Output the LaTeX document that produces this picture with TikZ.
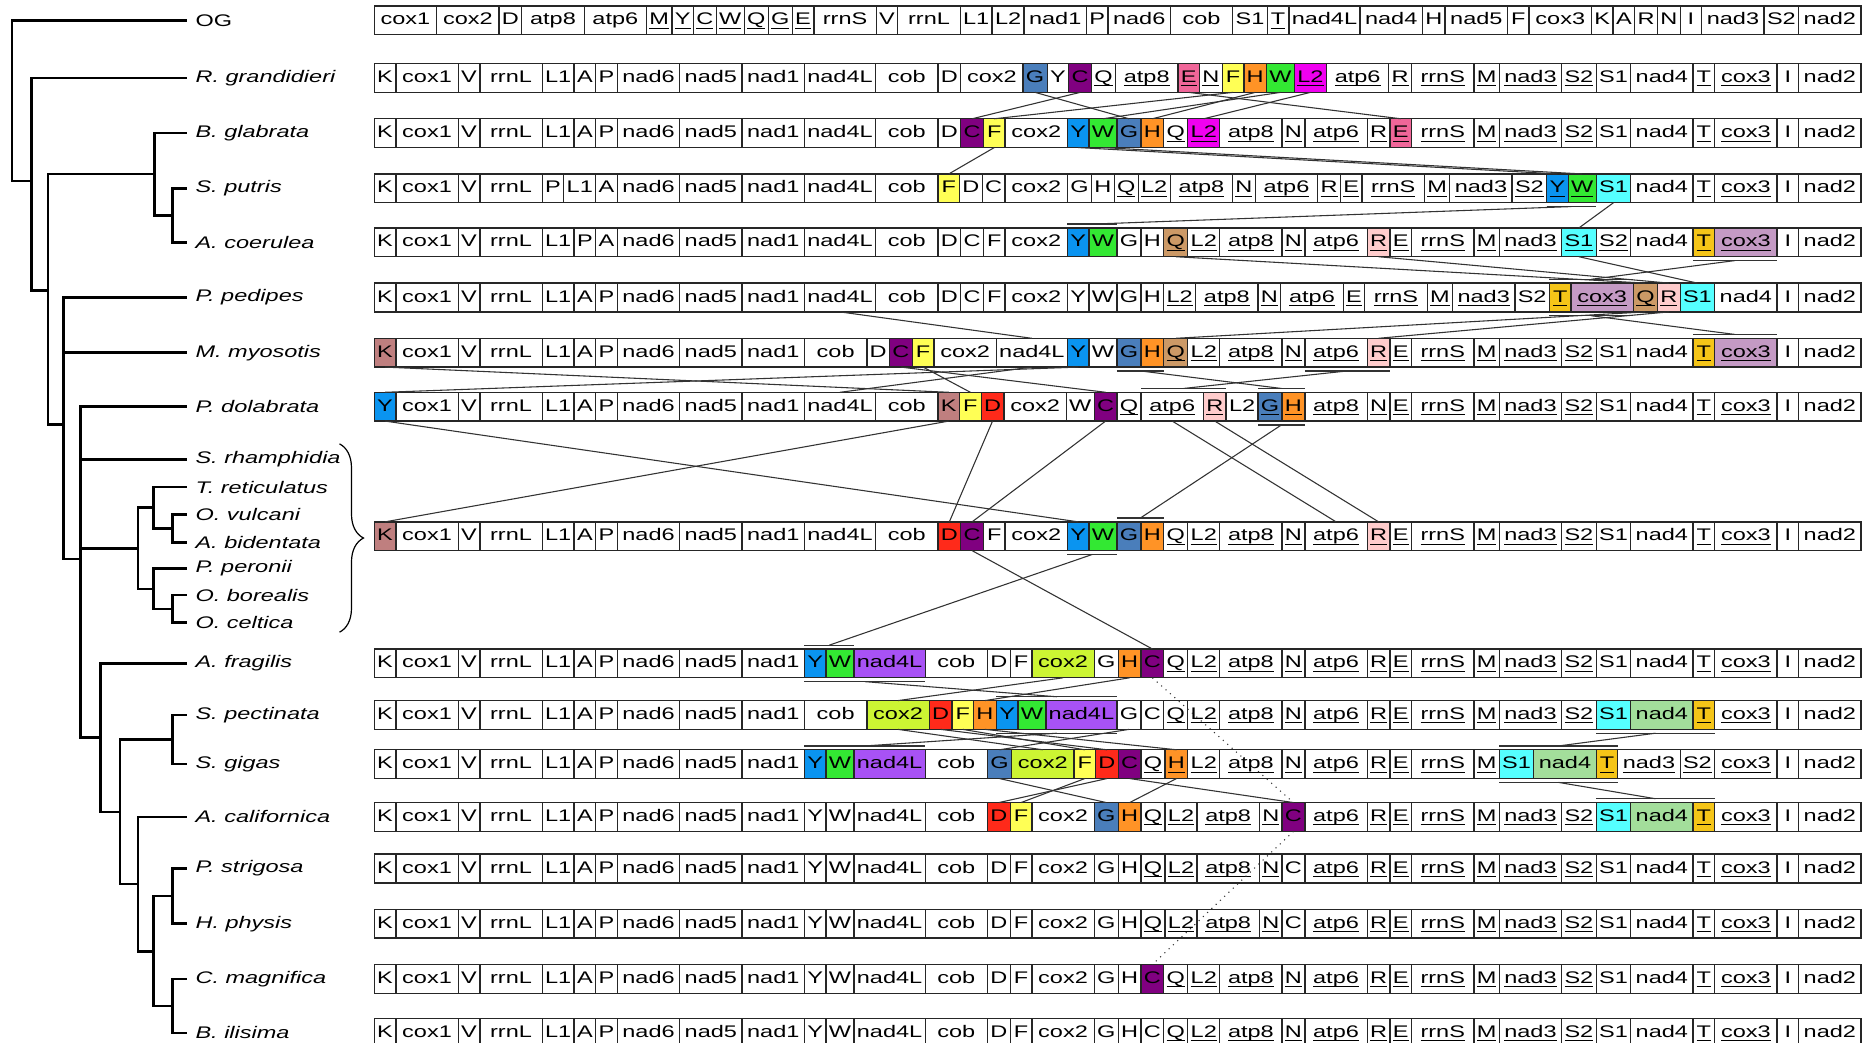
\documentclass[tikz,border=0pt]{standalone}
\usepackage{fontspec}
\newfontfamily\genefont[FakeStretch=1.4]{Liberation Sans}
\usetikzlibrary{decorations.pathreplacing}

% colours of moved genes
\definecolor{cC}{HTML}{800080}
\definecolor{cG}{HTML}{4A7EBB}
\definecolor{cY}{HTML}{0A94F0}
\definecolor{cW}{HTML}{33E833}
\definecolor{cF}{HTML}{FFFF55}
\definecolor{cH}{HTML}{FF9326}
\definecolor{cE}{HTML}{F06699}
\definecolor{cL2}{HTML}{F000F0}
\definecolor{cK}{HTML}{BF7F7F}
\definecolor{cD}{HTML}{FF2A1A}
\definecolor{cQ}{HTML}{CC9966}
\definecolor{cR}{HTML}{FFCCCC}
\definecolor{cS1}{HTML}{55FFFF}
\definecolor{cT}{HTML}{F5C518}
\definecolor{ccox3}{HTML}{C49AC4}
\definecolor{cnad4L}{HTML}{A852F5}
\definecolor{ccox2}{HTML}{CCF533}
\definecolor{cnad4}{HTML}{A3DE9B}

\newif\ifgul
\newcommand\gtxt[1]{\ifgul\underline{\smash{#1}}\else#1\fi}

% one gene order: row name, y, genes
\newcommand\generow[3]{%
  \node[inner sep=0pt, outer sep=0pt, minimum size=0pt] (#1-start) at (312,#2) {};
  \foreach \g/\s [remember=\g as \pg (initially start)] in {#3}
    \node[gbox, \g/.try, \s/.try] (#1-\g) at (#1-\pg.east) {\gtxt\g};
}

% block of genes moved between two rows
\newcommand\blockmove[4]{%
  \draw[bar] ([yshift=-1.6pt]#1-#3.south west) -- coordinate[midway] (#1-#3-lo) ([yshift=-1.6pt]#1-#4.south east);
  \draw[bar] ([yshift=1.6pt]#2-#3.north west) -- coordinate[midway] (#2-#3-hi) ([yshift=1.6pt]#2-#4.north east);
  \draw[link] (#1-#3-lo) -- (#2-#3-hi);
}

\begin{document}
\begin{tikzpicture}[x=0.5pt, y=-0.5pt]
    \tikzstyle{gbox}=[draw=black!85, line width=0.55pt, fill=white, font=\genefont\fontsize{7}{8}\selectfont, inner xsep=1.2pt, inner ysep=0pt, minimum width=9pt, minimum height=12pt, text height=5.2pt, text depth=1.4pt, outer sep=0pt, anchor=west]
    \tikzstyle{long}=[minimum width=26pt]
    \tikzstyle{col}=[fill=c\g]
    \tikzstyle{ul}=[execute at begin node=\gultrue]
    \tikzstyle{cu}=[col, ul]
    \tikzstyle{link}=[draw=black!80, line width=0.45pt]
    \tikzstyle{bar}=[draw=black!80, line width=0.55pt]
    \tikzstyle{branch}=[line width=1.1pt, line cap=rect]
    \tikzstyle{taxon}=[font={\genefont\itshape\fontsize{7}{8}\selectfont}, anchor=west, inner xsep=4pt, inner ysep=0pt, outer sep=0pt]
    \tikzset{cox1/.style=long, cox2/.style=long, cox3/.style=long, atp6/.style=long, atp8/.style=long,
      nad1/.style=long, nad2/.style=long, nad3/.style=long, nad4/.style=long, nad5/.style=long,
      nad6/.style=long, nad4L/.style=long, cob/.style=long, rrnS/.style=long, rrnL/.style=long}

    \useasboundingbox (0,0) rectangle (1563,869);

    % taxa
    \node[taxon, font=\genefont\fontsize{7}{8}\selectfont] (og-lbl) at (155,17) {OG};
    \foreach \n/\t/\y in {rg/R. grandidieri/65, bg/B. glabrata/111, sp/S. putris/157, ac/A. coerulea/202,
        pp/P. pedipes/248, mm/M. myosotis/294, pd/P. dolabrata/339, srh/S. rhamphidia/383,
        tre/T. reticulatus/406, ovu/O. vulcani/429, abi/A. bidentata/452, ppe/P. peronii/474,
        obo/O. borealis/496, oce/O. celtica/519, af/A. fragilis/553, spe/S. pectinata/596,
        sgi/S. gigas/637, aca/A. californica/681, pst/P. strigosa/724, hph/H. physis/770,
        cma/C. magnifica/816, bil/B. ilisima/861}
        \node[taxon] (\n-lbl) at (155,\y) {\t};

    % tree
    \coordinate (t-root) at (10,151);
    \coordinate (t-n26) at (26,151);
    \coordinate (t-n40) at (40,242);
    \coordinate (t-bg) at (129,145);
    \coordinate (t-spac) at (144,179.5);
    \coordinate (t-n53) at (53,354);
    \coordinate (t-n67) at (67,466);
    \coordinate (t-tcl) at (115,457);
    \coordinate (t-tret) at (128,423);
    \coordinate (t-ovab) at (144,440.5);
    \coordinate (t-pper) at (128,491);
    \coordinate (t-obc) at (144,507.5);
    \coordinate (t-n84) at (84,615);
    \coordinate (t-n100) at (100,677);
    \coordinate (t-ssg) at (144,616.5);
    \coordinate (t-aca) at (115,737);
    \coordinate (t-phcb) at (128,793);
    \coordinate (t-psh) at (144,747);
    \coordinate (t-cmb) at (144,838.5);
    \foreach \p/\c in {t-root/og-lbl.west, t-root/t-n26, t-n26/rg-lbl.west, t-n26/t-n40,
        t-n40/t-bg, t-n40/t-n53, t-bg/bg-lbl.west, t-bg/t-spac, t-spac/sp-lbl.west, t-spac/ac-lbl.west,
        t-n53/pp-lbl.west, t-n53/mm-lbl.west, t-n53/t-n67,
        t-n67/pd-lbl.west, t-n67/srh-lbl.west, t-n67/t-tcl, t-n67/t-n84,
        t-tcl/t-tret, t-tcl/t-pper, t-tret/tre-lbl.west, t-tret/t-ovab,
        t-ovab/ovu-lbl.west, t-ovab/abi-lbl.west, t-pper/ppe-lbl.west, t-pper/t-obc,
        t-obc/obo-lbl.west, t-obc/oce-lbl.west, t-n84/af-lbl.west, t-n84/t-n100,
        t-n100/t-ssg, t-n100/t-aca, t-ssg/spe-lbl.west, t-ssg/sgi-lbl.west,
        t-aca/aca-lbl.west, t-aca/t-phcb, t-phcb/t-psh, t-phcb/t-cmb,
        t-psh/pst-lbl.west, t-psh/hph-lbl.west, t-cmb/cma-lbl.west, t-cmb/bil-lbl.west}
        \draw[branch] (\p) |- (\c);

    \draw[line width=0.5pt, decorate, decoration={brace, amplitude=10pt}] (283,370) -- (283,527);

    % gene orders
    \generow{og}{17}{cox1, cox2, D, atp8, atp6, M/ul, Y/ul, C/ul, W/ul, Q/ul, G/ul, E/ul, rrnS, V, rrnL, L1, L2, nad1, P, nad6, cob, S1, T/ul, nad4L, nad4, H, nad5, F, cox3, K, A, R, N, I, nad3, S2, nad2}
    \generow{rg}{65}{K, cox1, V, rrnL, L1, A, P, nad6, nad5, nad1, nad4L, cob, D, cox2, G/col, Y, C/col, Q/ul, atp8/ul, E/cu, N/ul, F/col, H/col, W/col, L2/cu, atp6/ul, R/ul, rrnS/ul, M/ul, nad3/ul, S2/ul, S1, nad4, T/ul, cox3/ul, I, nad2}
    \generow{bg}{111}{K, cox1, V, rrnL, L1, A, P, nad6, nad5, nad1, nad4L, cob, D, C/col, F/col, cox2, Y/col, W/col, G/col, H/col, Q/ul, L2/cu, atp8/ul, N/ul, atp6/ul, R/ul, E/cu, rrnS/ul, M/ul, nad3/ul, S2/ul, S1, nad4, T/ul, cox3/ul, I, nad2}
    \generow{sp}{157}{K, cox1, V, rrnL, P, L1, A, nad6, nad5, nad1, nad4L, cob, F/col, D, C, cox2, G, H, Q/ul, L2/ul, atp8/ul, N/ul, atp6/ul, R/ul, E/ul, rrnS/ul, M/ul, nad3/ul, S2/ul, Y/cu, W/cu, S1/col, nad4, T/ul, cox3/ul, I, nad2}
    \generow{ac}{202}{K, cox1, V, rrnL, L1, P, A, nad6, nad5, nad1, nad4L, cob, D, C, F, cox2, Y/col, W/col, G, H, Q/cu, L2/ul, atp8/ul, N/ul, atp6/ul, R/cu, E/ul, rrnS/ul, M/ul, nad3/ul, S1/cu, S2/ul, nad4, T/cu, cox3/cu, I, nad2}
    \generow{pp}{248}{K, cox1, V, rrnL, L1, A, P, nad6, nad5, nad1, nad4L, cob, D, C, F, cox2, Y, W, G, H, L2/ul, atp8/ul, N/ul, atp6/ul, E/ul, rrnS/ul, M/ul, nad3/ul, S2, T/cu, cox3/cu, Q/cu, R/cu, S1/col, nad4, I, nad2}
    \generow{mm}{294}{K/col, cox1, V, rrnL, L1, A, P, nad6, nad5, nad1, cob, D, C/col, F/col, cox2, nad4L, Y/col, W, G/col, H/col, Q/cu, L2/ul, atp8/ul, N/ul, atp6/ul, R/cu, E/ul, rrnS/ul, M/ul, nad3/ul, S2/ul, S1, nad4, T/cu, cox3/cu, I, nad2}
    \generow{pd}{339}{Y/col, cox1, V, rrnL, L1, A, P, nad6, nad5, nad1, nad4L, cob, K/col, F/col, D/col, cox2, W, C/col, Q/ul, atp6/ul, R/cu, L2, G/cu, H/cu, atp8/ul, N/ul, E/ul, rrnS/ul, M/ul, nad3/ul, S2/ul, S1, nad4, T/ul, cox3/ul, I, nad2}
    \generow{cb}{447}{K/col, cox1, V, rrnL, L1, A, P, nad6, nad5, nad1, nad4L, cob, D/col, C/col, F, cox2, Y/col, W/col, G/col, H/col, Q/ul, L2/ul, atp8/ul, N/ul, atp6/ul, R/cu, E/ul, rrnS/ul, M/ul, nad3/ul, S2/ul, S1, nad4, T/ul, cox3/ul, I, nad2}
    \generow{af}{553}{K, cox1, V, rrnL, L1, A, P, nad6, nad5, nad1, Y/col, W/col, nad4L/col, cob, D, F, cox2/col, G, H/col, C/col, Q/ul, L2/ul, atp8/ul, N/ul, atp6/ul, R/ul, E/ul, rrnS/ul, M/ul, nad3/ul, S2/ul, S1, nad4, T/ul, cox3/ul, I, nad2}
    \generow{spe}{596}{K, cox1, V, rrnL, L1, A, P, nad6, nad5, nad1, cob, cox2/col, D/col, F/col, H/col, Y/col, W/col, nad4L/col, G, C, Q/ul, L2/ul, atp8/ul, N/ul, atp6/ul, R/ul, E/ul, rrnS/ul, M/ul, nad3/ul, S2/ul, S1/col, nad4/col, T/cu, cox3/ul, I, nad2}
    \generow{sgi}{637}{K, cox1, V, rrnL, L1, A, P, nad6, nad5, nad1, Y/col, W/col, nad4L/col, cob, G/col, cox2/col, F/col, D/col, C/col, Q/ul, H/cu, L2/ul, atp8/ul, N/ul, atp6/ul, R/ul, E/ul, rrnS/ul, M/ul, S1/col, nad4/col, T/cu, nad3/ul, S2/ul, cox3/ul, I, nad2}
    \generow{aca}{681}{K, cox1, V, rrnL, L1, A, P, nad6, nad5, nad1, Y, W, nad4L, cob, D/col, F/col, cox2, G/col, H/col, Q/ul, L2/ul, atp8/ul, N/ul, C/col, atp6/ul, R/ul, E/ul, rrnS/ul, M/ul, nad3/ul, S2/ul, S1/col, nad4/col, T/cu, cox3/ul, I, nad2}
    \generow{pst}{724}{K, cox1, V, rrnL, L1, A, P, nad6, nad5, nad1, Y, W, nad4L, cob, D, F, cox2, G, H, Q/ul, L2/ul, atp8/ul, N/ul, C, atp6/ul, R/ul, E/ul, rrnS/ul, M/ul, nad3/ul, S2/ul, S1, nad4, T/ul, cox3/ul, I, nad2}
    \generow{hph}{770}{K, cox1, V, rrnL, L1, A, P, nad6, nad5, nad1, Y, W, nad4L, cob, D, F, cox2, G, H, Q/ul, L2/ul, atp8/ul, N/ul, C, atp6/ul, R/ul, E/ul, rrnS/ul, M/ul, nad3/ul, S2/ul, S1, nad4, T/ul, cox3/ul, I, nad2}
    \generow{cma}{816}{K, cox1, V, rrnL, L1, A, P, nad6, nad5, nad1, Y, W, nad4L, cob, D, F, cox2, G, H, C/col, Q/ul, L2/ul, atp8/ul, N/ul, atp6/ul, R/ul, E/ul, rrnS/ul, M/ul, nad3/ul, S2/ul, S1, nad4, T/ul, cox3/ul, I, nad2}
    \generow{bil}{861}{K, cox1, V, rrnL, L1, A, P, nad6, nad5, nad1, Y, W, nad4L, cob, D, F, cox2, G, H, C, Q/ul, L2/ul, atp8/ul, N/ul, atp6/ul, R/ul, E/ul, rrnS/ul, M/ul, nad3/ul, S2/ul, S1, nad4, T/ul, cox3/ul, I, nad2}

    % single genes that moved
    \foreach \u/\l/\g in {rg/bg/G, rg/bg/C, rg/bg/E, rg/bg/F, rg/bg/H, rg/bg/W, rg/bg/L2,
        bg/sp/F, bg/sp/Y, bg/sp/W, sp/ac/S1, ac/pp/Q, ac/pp/R, ac/pp/S1,
        pp/mm/nad4L, pp/mm/Q, pp/mm/R, mm/pd/K, mm/pd/Y, mm/pd/nad4L, mm/pd/F, mm/pd/C,
        pd/cb/Y, pd/cb/K, pd/cb/D, pd/cb/C, pd/cb/atp6, pd/cb/R, cb/af/C, af/spe/cox2, af/spe/H,
        spe/sgi/cox2, spe/sgi/D, spe/sgi/F, spe/sgi/H, spe/sgi/G,
        sgi/aca/G, sgi/aca/D, sgi/aca/F, sgi/aca/C, sgi/aca/H}
        \draw[link] (\u-\g.south) -- (\l-\g.north);

    % blocks that moved
    \blockmove{sp}{ac}{Y}{W}
    \blockmove{ac}{pp}{T}{cox3}
    \blockmove{pp}{mm}{T}{cox3}
    \blockmove{mm}{pd}{G}{H}
    \blockmove{mm}{pd}{atp6}{R}
    \blockmove{pd}{cb}{G}{H}
    \blockmove{cb}{af}{Y}{W}
    \blockmove{af}{spe}{Y}{nad4L}
    \blockmove{spe}{sgi}{Y}{nad4L}
    \blockmove{spe}{sgi}{S1}{T}
    \blockmove{sgi}{aca}{S1}{T}

    \draw[link, dotted] (af-C.south) -- (aca-C.north);
    \draw[link, dotted] (aca-C.south) -- (cma-C.north);
\end{tikzpicture}
\end{document}
